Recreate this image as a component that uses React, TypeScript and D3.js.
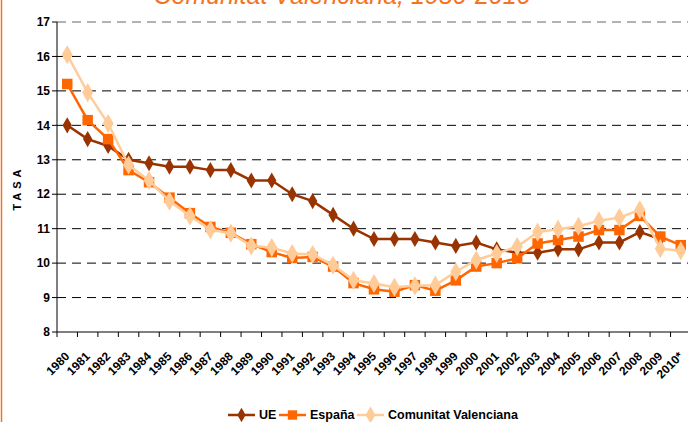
import React, { useRef, useEffect } from 'react';
import * as d3 from 'd3';

const years = [
  '1980', '1981', '1982', '1983', '1984', '1985', '1986', '1987', '1988', '1989',
  '1990', '1991', '1992', '1993', '1994', '1995', '1996', '1997', '1998', '1999',
  '2000', '2001', '2002', '2003', '2004', '2005', '2006', '2007', '2008', '2009', '2010*',
];

const ue = [
  14.0, 13.6, 13.4, 13.0, 12.9, 12.8, 12.8, 12.7, 12.7, 12.4,
  12.4, 12.0, 11.8, 11.4, 11.0, 10.7, 10.7, 10.7, 10.6, 10.5,
  10.6, 10.4, 10.3, 10.3, 10.4, 10.4, 10.6, 10.6, 10.9, 10.7, null,
];

const espana = [
  15.2, 14.15, 13.6, 12.7, 12.35, 11.9, 11.45, 11.05, 10.88, 10.55,
  10.32, 10.15, 10.18, 9.9, 9.42, 9.24, 9.17, 9.36, 9.2, 9.5,
  9.9, 10.0, 10.14, 10.57, 10.67, 10.77, 10.96, 10.96, 11.37, 10.77, 10.52,
];

const valenciana = [
  16.05, 14.95, 14.05, 12.85, 12.4, 11.8, 11.37, 10.97, 10.87, 10.5,
  10.45, 10.28, 10.25, 9.94, 9.5, 9.41, 9.3, 9.34, 9.36, 9.75,
  10.09, 10.28, 10.48, 10.9, 10.98, 11.07, 11.23, 11.32, 11.55, 10.42, 10.36,
];

const yTicks = [8, 9, 10, 11, 12, 13, 14, 15, 16, 17];

const series = [
  { name: 'UE', values: ue, color: '#993300', marker: 'diamond', size: 75 },
  { name: 'España', values: espana, color: '#ff6600', marker: 'square', size: 110 },
  { name: 'Comunitat Valenciana', values: valenciana, color: '#ffcc99', marker: 'diamond', size: 105 },
];

const width = 688;
const height = 422;
const plot = { left: 57, right: 691, top: 22, bottom: 332 };
const font = '"Liberation Sans", Arial, sans-serif';

const App = () => {
  const ref = useRef(null);

  useEffect(() => {
    const svg = d3.select(ref.current);
    svg.selectAll('*').remove();

    // left border
    svg.append('line')
      .attr('x1', 1.5).attr('x2', 1.5).attr('y1', 0).attr('y2', height)
      .attr('stroke', '#f47321').attr('stroke-width', 1.5);

    // title (cut at top like the source)
    svg.append('text')
      .attr('x', 342).attr('y', 4)
      .attr('text-anchor', 'middle')
      .attr('font-family', font).attr('font-style', 'italic')
      .attr('font-size', 25).attr('fill', '#f47321')
      .text('Comunitat Valenciana, 1980-2010');

    const x = d3.scaleBand().domain(years).range([plot.left, plot.right]);
    const y = d3.scaleLinear().domain([8, 17]).range([plot.bottom, plot.top]);

    // gridlines
    svg.append('g')
      .selectAll('line')
      .data(yTicks.filter((t) => t > 8))
      .enter()
      .append('line')
      .attr('x1', plot.left).attr('x2', width)
      .attr('y1', (d) => y(d)).attr('y2', (d) => y(d))
      .attr('stroke', (d) => (d === 17 ? '#666' : '#000'))
      .attr('stroke-width', 1)
      .attr('stroke-dasharray', '9,6');

    // axes
    svg.append('line')
      .attr('x1', plot.left).attr('x2', plot.left)
      .attr('y1', plot.top).attr('y2', plot.bottom)
      .attr('stroke', '#000');
    svg.append('line')
      .attr('x1', plot.left).attr('x2', width)
      .attr('y1', plot.bottom).attr('y2', plot.bottom)
      .attr('stroke', '#000');

    svg.append('g')
      .selectAll('line')
      .data(yTicks)
      .enter()
      .append('line')
      .attr('x1', plot.left - 5).attr('x2', plot.left)
      .attr('y1', (d) => y(d)).attr('y2', (d) => y(d))
      .attr('stroke', '#000');

    svg.append('g')
      .selectAll('text')
      .data(yTicks)
      .enter()
      .append('text')
      .attr('x', plot.left - 7)
      .attr('y', (d) => y(d))
      .attr('dy', '0.35em')
      .attr('text-anchor', 'end')
      .attr('font-family', font).attr('font-weight', 'bold').attr('font-size', 12)
      .text((d) => d);

    svg.append('g')
      .selectAll('line')
      .data(years)
      .enter()
      .append('line')
      .attr('x1', (d) => x(d)).attr('x2', (d) => x(d))
      .attr('y1', plot.bottom).attr('y2', plot.bottom + 5)
      .attr('stroke', '#000');

    svg.append('g')
      .selectAll('text')
      .data(years)
      .enter()
      .append('text')
      .attr('transform', (d) => `translate(${x(d) + x.bandwidth() / 2 + 3}, ${plot.bottom + 25}) rotate(-45)`)
      .attr('text-anchor', 'end')
      .attr('font-family', font).attr('font-weight', 'bold').attr('font-size', 12)
      .text((d) => d);

    // y label
    svg.append('text')
      .attr('transform', 'translate(21, 188) rotate(-90)')
      .attr('text-anchor', 'middle')
      .attr('font-family', font).attr('font-weight', 'bold').attr('font-size', 11)
      .attr('letter-spacing', 4)
      .text('TASA');

    const cx = (i) => x(years[i]) + x.bandwidth() / 2;

    series.forEach((s) => {
      const pts = s.values.map((v, i) => ({ v, i })).filter((p) => p.v != null);
      svg.append('path')
        .datum(pts)
        .attr('fill', 'none')
        .attr('stroke', s.color)
        .attr('stroke-width', 2.5)
        .attr('d', d3.line().x((p) => cx(p.i)).y((p) => y(p.v)));

      const sym = d3.symbol()
        .type(s.marker === 'square' ? d3.symbolSquare : d3.symbolDiamond)
        .size(s.size);

      svg.append('g')
        .selectAll('path')
        .data(pts)
        .enter()
        .append('path')
        .attr('transform', (p) => `translate(${cx(p.i)}, ${y(p.v)})`)
        .attr('d', sym)
        .attr('fill', s.color);
    });

    // legend
    const legendX = [228, 279, 357];
    series.forEach((s, k) => {
      const g = svg.append('g').attr('transform', `translate(${legendX[k]}, 415)`);
      g.append('line').attr('x1', 0).attr('x2', 27).attr('y1', 0).attr('y2', 0)
        .attr('stroke', s.color).attr('stroke-width', 2.5);
      g.append('path')
        .attr('transform', 'translate(13.5, 0)')
        .attr('d', d3.symbol().type(s.marker === 'square' ? d3.symbolSquare : d3.symbolDiamond).size(s.size * 0.8))
        .attr('fill', s.color);
      g.append('text')
        .attr('x', 31).attr('y', 0).attr('dy', '0.35em')
        .attr('font-family', font).attr('font-weight', 'bold').attr('font-size', 12.5)
        .text(s.name);
    });
  }, []);

  return (
    <svg
      ref={ref}
      width={width}
      height={height}
      style={{ position: 'fixed', top: 0, left: 0, background: '#fff' }}
    ></svg>
  );
};

export default App;
